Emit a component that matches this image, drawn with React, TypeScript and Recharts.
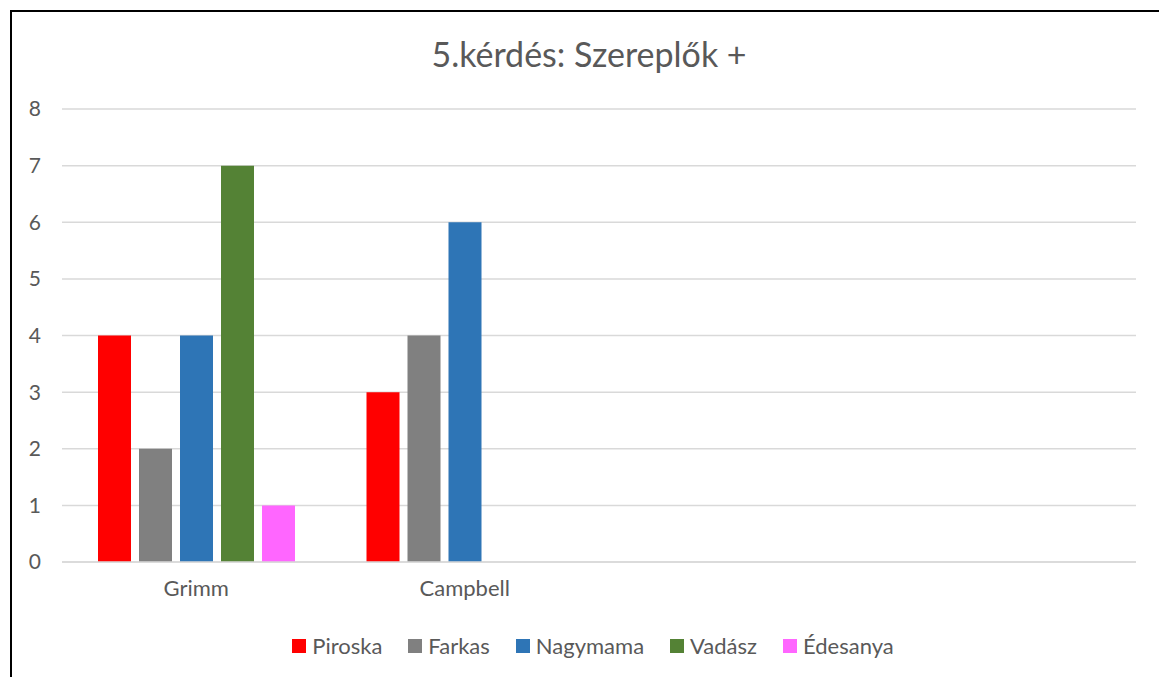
import React from 'react';
import { BarChart, Bar, XAxis, YAxis, CartesianGrid } from 'recharts';

const categories = ['Grimm', 'Campbell', '', ''];
const piroska = [4, 3, null, null];
const farkas = [2, 4, null, null];
const nagymama = [4, 6, null, null];
const vadasz = [7, null, null, null];
const edesanya = [1, null, null, null];
const yTicks = [0, 1, 2, 3, 4, 5, 6, 7, 8];

const series = [
  { key: 'Piroska', values: piroska, color: '#FF0000' },
  { key: 'Farkas', values: farkas, color: '#808080' },
  { key: 'Nagymama', values: nagymama, color: '#2E75B6' },
  { key: 'Vadász', values: vadasz, color: '#548235' },
  { key: 'Édesanya', values: edesanya, color: '#FF66FF' },
];

const data = categories.map((name, i) => {
  const row: Record<string, string | number | null> = { name };
  series.forEach((s) => {
    row[s.key] = s.values[i];
  });
  return row;
});

const font = 'Lato, "Open Sans", sans-serif';
const textColor = '#595959';

export default function App() {
  return (
    <div style={{ position: 'absolute', left: 0, top: 0, width: 1159, height: 677, background: '#fff', overflow: 'hidden', fontFamily: font }}>
      <div style={{ position: 'absolute', left: 10, top: 10, width: 1160, height: 680, borderLeft: '2px solid #000', borderTop: '2px solid #000' }} />
      <div style={{ position: 'absolute', top: 33, left: 0, width: 1178, textAlign: 'center', fontSize: 34, color: textColor }}>
        5.kérdés: Szereplők +
      </div>
      <div style={{ position: 'absolute', left: 0, top: 0 }}>
        <BarChart width={1159} height={677} data={data} margin={{ top: 109, right: 23, bottom: 85, left: 0 }} barCategoryGap={36} barGap={8}>
          <CartesianGrid vertical={false} stroke="#d9d9d9" strokeWidth={1.5} />
          <XAxis
            dataKey="name"
            height={30}
            axisLine={{ stroke: '#d9d9d9', strokeWidth: 1.5 }}
            tickLine={false}
            tickMargin={12}
            tick={{ fill: textColor, fontSize: 22, fontFamily: font }}
          />
          <YAxis
            width={62}
            domain={[0, 8]}
            ticks={yTicks}
            axisLine={false}
            tickLine={false}
            tickMargin={15}
            tick={{ fill: textColor, fontSize: 21, fontFamily: font }}
          />
          {series.map((s) => (
            <Bar key={s.key} dataKey={s.key} fill={s.color} isAnimationActive={false} />
          ))}
        </BarChart>
      </div>
      <div style={{ position: 'absolute', top: 632, left: 0, width: 1186, display: 'flex', justifyContent: 'center', alignItems: 'center', fontSize: 22, color: textColor }}>
        {series.map((s, i) => (
          <div key={s.key} style={{ display: 'flex', alignItems: 'center', marginLeft: i === 0 ? 0 : 26 }}>
            <span style={{ display: 'inline-block', width: 14, height: 14, background: s.color, marginRight: 6 }} />
            <span>{s.key}</span>
          </div>
        ))}
      </div>
    </div>
  );
}
